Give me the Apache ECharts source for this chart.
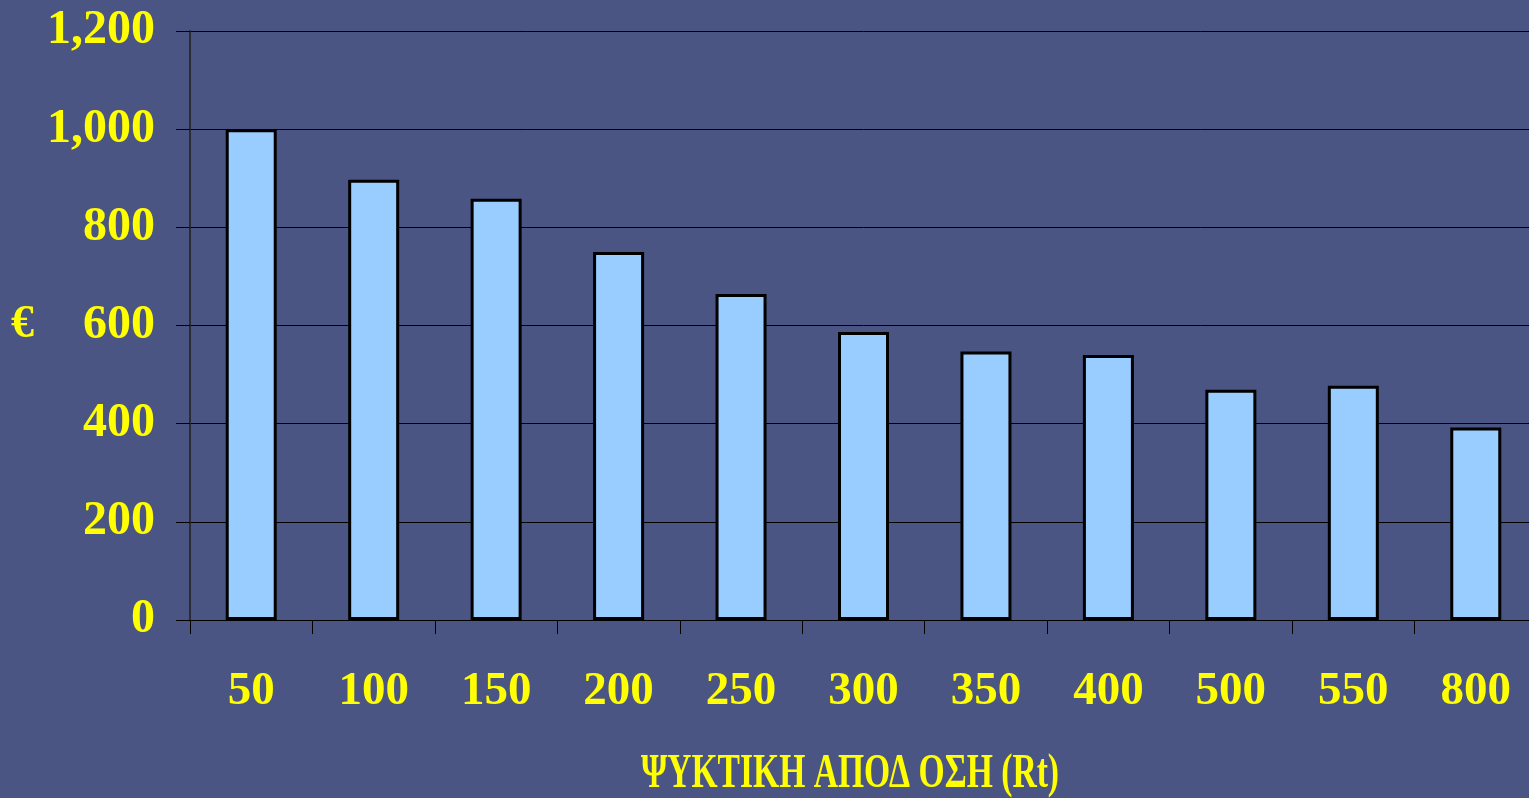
<!DOCTYPE html>
<html>
<head>
<meta charset="utf-8">
<script src="https://cdn.jsdelivr.net/npm/echarts@6/dist/echarts.min.js"></script>
<style>
html,body{margin:0;padding:0;background:#4B5583;overflow:hidden;}
#c{width:1537px;height:798px;}
</style>
</head>
<body>
<div id="c"></div>
<script>
const categories = ['50','100','150','200','250','300','350','400','500','550','800'];
const values = [1000, 897, 858, 750, 664, 587, 547, 540, 469, 477, 392];
const yTicks = { min: 0, max: 1200, interval: 200 };
const xAxisTitle = 'ΨΥΚΤΙΚΗ ΑΠΟΔ ΟΣΗ (Rt)';
const yAxisTitle = '€';

const chart = echarts.init(document.getElementById('c'), null, {renderer: 'canvas'});
const serif = '"Liberation Serif", "Times New Roman", serif';
chart.setOption({
  backgroundColor: '#4B5583',
  animation: false,
  grid: { left: 190, top: 31, bottom: 178, right: 0, containLabel: false },
  graphic: [{
    type: 'text',
    x: 850, y: 775,
    scaleX: 0.7,
    silent: true,
    style: {
      text: xAxisTitle,
      fill: '#FFFF00',
      font: 'bold 48px ' + serif,
      align: 'center',
      verticalAlign: 'middle'
    }
  }],
  xAxis: {
    type: 'category',
    data: categories,
    boundaryGap: true,
    axisLine: { show: true, lineStyle: { color: '#000', width: 1 } },
    axisTick: { show: true, alignWithLabel: false, length: 14, lineStyle: { color: '#000', width: 1 } },
    axisLabel: { color: '#FFFF00', fontFamily: serif, fontWeight: 'bold', fontSize: 47, margin: 48, interval: 0 },
    splitLine: { show: false }
  },
  yAxis: {
    type: 'value',
    min: yTicks.min, max: yTicks.max, interval: yTicks.interval,
    name: yAxisTitle,
    nameLocation: 'middle',
    nameRotate: 0,
    nameGap: 156,
    nameTextStyle: { color: '#FFFF00', fontFamily: serif, fontWeight: 'bold', fontSize: 46 },
    axisLine: { show: true, lineStyle: { color: '#2b2b33', width: 2 } },
    axisTick: { show: true, length: 14, inside: false, lineStyle: { color: '#000', width: 1 } },
    axisLabel: {
      color: '#FFFF00', fontFamily: serif, fontWeight: 'bold', fontSize: 48, margin: 35,
      formatter: v => v.toString().replace(/\B(?=(\d{3})+(?!\d))/g, ',')
    },
    splitLine: { show: true, lineStyle: { color: '#000', width: 1 } }
  },
  series: [{
    type: 'bar',
    data: values,
    barWidth: 51,
    itemStyle: { color: '#99CCFF', borderColor: '#000', borderWidth: 3 }
  }]
});
</script>
</body>
</html>
